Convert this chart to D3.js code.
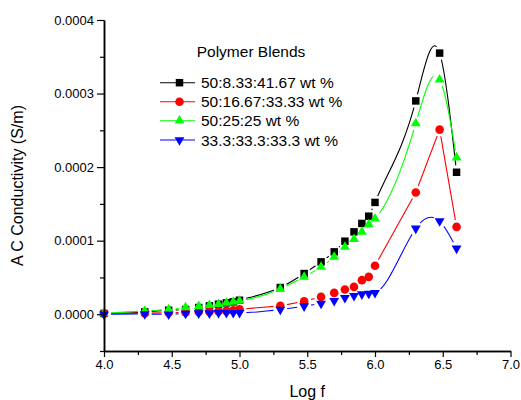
<!DOCTYPE html>
<html>
<head>
<meta charset="utf-8">
<script src="https://cdn.jsdelivr.net/npm/d3@7"></script>
<style>
  html, body { margin: 0; padding: 0; background: #fff; }
  svg { display: block; font-family: "Liberation Sans", Arial, sans-serif; }
</style>
</head>
<body>
<svg id="chart" width="521" height="400"></svg>
<script>
// Frequency axis (log10 of frequency in Hz)
const logF = [4.0, 4.301, 4.477, 4.602, 4.699, 4.778, 4.845, 4.903, 4.954, 5.0,
              5.301, 5.477, 5.602, 5.699, 5.778, 5.845, 5.903, 5.954, 6.0,
              6.301, 6.477, 6.602];

// AC conductivity (S/m) for each blend composition
const blendA = [0.0000010, 0.0000031, 0.0000054, 0.0000064, 0.0000091, 0.0000113, 0.0000136, 0.0000154, 0.0000168, 0.0000190,
                0.0000363, 0.0000553, 0.0000712, 0.0000848, 0.0000993, 0.0001120, 0.0001234, 0.0001333, 0.0001520,
                0.0002900, 0.0003550, 0.0001930];
const blendB = [0.0000010, 0.0000015, 0.0000020, 0.0000025, 0.0000030, 0.0000035, 0.0000040, 0.0000045, 0.0000055, 0.0000068,
                0.0000113, 0.0000177, 0.0000236, 0.0000290, 0.0000336, 0.0000372, 0.0000463, 0.0000508, 0.0000658,
                0.0001655, 0.0002510, 0.0001188];
const blendC = [0.0000010, 0.0000045, 0.0000064, 0.0000091, 0.0000109, 0.0000122, 0.0000136, 0.0000154, 0.0000168, 0.0000181,
                0.0000344, 0.0000508, 0.0000644, 0.0000780, 0.0000916, 0.0001020, 0.0001120, 0.0001220, 0.0001300,
                0.0002594, 0.0003190, 0.0002130];
const blendD = [0.0000000, 0.0000003, 0.0000000, 0.0000010, 0.0000014, 0.0000014, 0.0000018, 0.0000018, 0.0000020, 0.0000020,
                0.0000064, 0.0000109, 0.0000145, 0.0000181, 0.0000222, 0.0000249, 0.0000272, 0.0000281, 0.0000290,
                0.0001166, 0.0001265, 0.0000894];

const seriesNames = ["50:8.33:41.67 wt %", "50:16.67:33.33 wt %", "50:25:25 wt %", "33.3:33.3:33.3 wt %"];

const xMajorTicks = [4.0, 4.5, 5.0, 5.5, 6.0, 6.5, 7.0];
const xMinorTicks = [4.25, 4.75, 5.25, 5.75, 6.25, 6.75];
const yMajorTicks = [0.0000, 0.0001, 0.0002, 0.0003, 0.0004];
const yMinorTicks = [-0.00005, 0.00005, 0.00015, 0.00025, 0.00035];

// Curve factory: natural cubic spline of y as a function of x,
// emitted as one cubic Bézier per interval.
function curveSplineX(context) {
  let xs, ys;
  return {
    areaStart() {}, areaEnd() {},
    lineStart() { xs = []; ys = []; },
    point(px, py) { xs.push(+px); ys.push(+py); },
    lineEnd() {
      const n = xs.length;
      if (!n) return;
      context.moveTo(xs[0], ys[0]);
      if (n < 3) { for (let i = 1; i < n; i++) context.lineTo(xs[i], ys[i]); return; }
      const h = [], M = new Array(n).fill(0);
      for (let i = 0; i < n - 1; i++) h.push(xs[i + 1] - xs[i]);
      // tridiagonal system for second derivatives (natural ends)
      const a = [], b = [], c = [], r = [];
      for (let i = 1; i < n - 1; i++) {
        a.push(h[i - 1]); b.push(2 * (h[i - 1] + h[i])); c.push(h[i]);
        r.push(6 * ((ys[i + 1] - ys[i]) / h[i] - (ys[i] - ys[i - 1]) / h[i - 1]));
      }
      const m = b.length;
      for (let i = 1; i < m; i++) {
        const w = a[i] / b[i - 1];
        b[i] -= w * c[i - 1]; r[i] -= w * r[i - 1];
      }
      const sol = new Array(m);
      sol[m - 1] = r[m - 1] / b[m - 1];
      for (let i = m - 2; i >= 0; i--) sol[i] = (r[i] - c[i] * sol[i + 1]) / b[i];
      for (let i = 0; i < m; i++) M[i + 1] = sol[i];
      const slope = new Array(n);
      for (let i = 0; i < n - 1; i++)
        slope[i] = (ys[i + 1] - ys[i]) / h[i] - h[i] * (2 * M[i] + M[i + 1]) / 6;
      slope[n - 1] = (ys[n - 1] - ys[n - 2]) / h[n - 2] + h[n - 2] * (M[n - 2] + 2 * M[n - 1]) / 6;
      for (let i = 0; i < n - 1; i++) {
        const d = h[i] / 3;
        context.bezierCurveTo(xs[i] + d, ys[i] + d * slope[i],
                              xs[i + 1] - d, ys[i + 1] - d * slope[i + 1],
                              xs[i + 1], ys[i + 1]);
      }
    }
  };
}

const series = [
  { name: seriesNames[0], values: blendA, color: "#000000", symbol: d3.symbolSquare, size: 56, rotate: 0, curve: curveSplineX },
  { name: seriesNames[1], values: blendB, color: "#ff0000", symbol: d3.symbolCircle, size: 58, rotate: 0, curve: d3.curveLinear },
  { name: seriesNames[2], values: blendC, color: "#00ff00", symbol: d3.symbolTriangle, size: 42, rotate: 0, curve: curveSplineX },
  { name: seriesNames[3], values: blendD, color: "#0000ff", symbol: d3.symbolTriangle, size: 42, rotate: 180, curve: curveSplineX }
];

const svg = d3.select("#chart");
const plotLeft = 104, plotRight = 510.5, plotTop = 20, plotBottom = 351;

const x = d3.scaleLinear().domain([4, 7]).range([plotLeft, plotRight]);
const y = d3.scaleLinear().domain([-0.00005, 0.0004]).range([plotBottom, plotTop]);

// Lines are interrupted around their own markers
const defs = svg.append("defs");
series.forEach((s, i) => {
  const m = defs.append("mask").attr("id", "gap" + i).attr("maskUnits", "userSpaceOnUse")
    .attr("x", 0).attr("y", 0).attr("width", 521).attr("height", 400);
  m.append("rect").attr("width", 521).attr("height", 400).attr("fill", "#fff");
  m.selectAll("circle").data(logF).join("circle")
    .attr("cx", d => x(d)).attr("cy", (d, j) => y(s.values[j]))
    .attr("r", 7).attr("fill", "#000");
});

const plot = svg.append("g");
series.forEach((s, i) => {
  const pts = logF.map((f, j) => [f, s.values[j]]);
  const line = d3.line().x(d => x(d[0])).y(d => y(d[1])).curve(s.curve);
  plot.append("path").attr("d", line(pts))
    .attr("fill", "none").attr("stroke", s.color).attr("stroke-width", 1.1)
    .attr("mask", "url(#gap" + i + ")");
});
series.forEach(s => {
  const sym = d3.symbol().type(s.symbol).size(s.size);
  plot.append("g").selectAll("path").data(logF).join("path")
    .attr("d", sym)
    .attr("transform", (d, j) => `translate(${x(d)},${y(s.values[j])}) rotate(${s.rotate})`)
    .attr("fill", s.color);
});

// Axes
const fontSize = 13;
const xAxisMajor = d3.axisBottom(x).tickValues(xMajorTicks).tickFormat(d3.format(".1f")).tickSizeInner(6).tickSizeOuter(0).tickPadding(3);
const xAxisMinor = d3.axisBottom(x).tickValues(xMinorTicks).tickFormat("").tickSizeInner(4).tickSizeOuter(0);
const yAxisMajor = d3.axisLeft(y).tickValues(yMajorTicks).tickFormat(d3.format(".4f")).tickSizeInner(7).tickSizeOuter(0).tickPadding(3);
const yAxisMinor = d3.axisLeft(y).tickValues(yMinorTicks).tickFormat("").tickSizeInner(4).tickSizeOuter(0);

function styleAxis(g) {
  g.selectAll("path.domain").attr("stroke", "#000").attr("stroke-width", 1.5);
  g.selectAll(".tick line").attr("stroke", "#000").attr("stroke-width", 1.2);
  g.selectAll(".tick text").attr("fill", "#000").style("font-size", fontSize + "px")
    .style("font-family", "'Liberation Sans', Arial, sans-serif");
}

svg.append("g").attr("transform", `translate(0,${plotBottom})`).call(xAxisMinor).call(styleAxis);
svg.append("g").attr("transform", `translate(0,${plotBottom})`).call(xAxisMajor).call(styleAxis);
svg.append("g").attr("transform", `translate(${plotLeft},0)`).call(yAxisMinor).call(styleAxis);
svg.append("g").attr("transform", `translate(${plotLeft},0)`).call(yAxisMajor).call(styleAxis);

// Axis titles
svg.append("text").attr("x", (plotLeft + plotRight) / 2).attr("y", 397)
  .attr("text-anchor", "middle").style("font-size", "16px").attr("fill", "#000").text("Log f");
svg.append("text").attr("transform", `translate(23,${(plotTop + plotBottom) / 2}) rotate(-90)`)
  .attr("text-anchor", "middle").style("font-size", "16px").attr("fill", "#000").text("A C Conductivity (S/m)");

// Legend
const legend = svg.append("g");
legend.append("text").attr("x", 251).attr("y", 57).attr("text-anchor", "middle")
  .style("font-size", "15.5px").attr("fill", "#000").text("Polymer Blends");
const rowY = [82.7, 101.7, 120.7, 140];
series.forEach((s, i) => {
  const g = legend.append("g").attr("transform", `translate(0,${rowY[i]})`);
  g.append("line").attr("x1", 160).attr("x2", 195).attr("y1", 0).attr("y2", 0)
    .attr("stroke", s.color).attr("stroke-width", 1.1);
  g.append("path").attr("d", d3.symbol().type(s.symbol).size(s.size)())
    .attr("transform", `translate(179.5,0) rotate(${s.rotate})`).attr("fill", s.color);
  g.append("text").attr("x", 201).attr("y", 5.6).style("font-size", "15.5px")
    .attr("fill", "#000").text(s.name);
});
</script>
</body>
</html>
